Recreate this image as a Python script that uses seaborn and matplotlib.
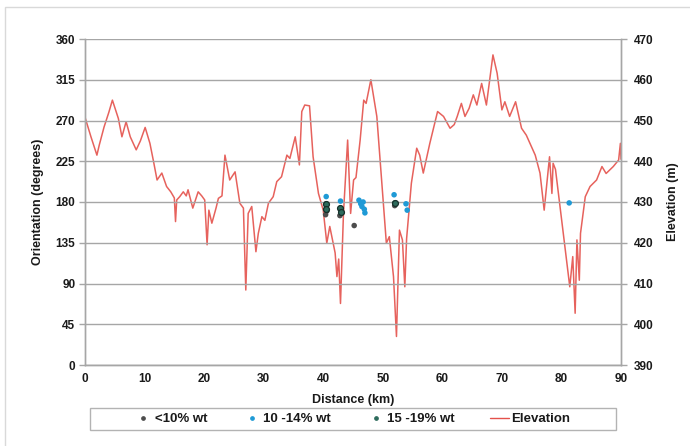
import numpy as np
import pandas as pd
import matplotlib
matplotlib.use("Agg")
import matplotlib.pyplot as plt
from matplotlib.patches import Rectangle
from matplotlib.lines import Line2D
import seaborn as sns

# Elevation profile along the route
dist_km = [0.0, 1.0, 2.0, 2.4, 3.2, 4.0, 4.6, 5.6, 6.2, 6.9, 7.6, 8.6, 9.3, 10.1, 10.9,
           11.5, 12.1, 12.9, 13.7, 14.4, 15.0, 15.2, 15.4, 15.9, 16.5, 17.0, 17.3, 18.1,
           19.0, 19.6, 20.1, 20.5, 20.8, 21.3, 22.0, 22.4, 23.0, 23.5, 24.3, 25.2, 26.0,
           26.6, 27.0, 27.4, 28.0, 28.7, 29.1, 29.7, 30.2, 30.8, 31.6, 32.2, 33.0, 33.9,
           34.4, 35.3, 36.0, 36.4, 36.9, 37.7, 38.3, 39.2, 40.0, 40.6, 41.1, 42.0, 42.3,
           42.6, 42.9, 43.4, 44.1, 44.6, 45.1, 45.5, 46.2, 46.8, 47.2, 48.0, 49.0, 49.8,
           50.6, 51.1, 51.8, 52.3, 52.8, 53.3, 53.7, 54.0, 54.8, 55.7, 56.2, 56.8, 57.9,
           59.2, 60.2, 61.3, 62.0, 62.5, 63.2, 63.8, 64.5, 65.2, 65.8, 66.6, 67.4, 68.5,
           69.2, 70.0, 70.5, 71.3, 72.3, 73.3, 74.1, 75.6, 76.4, 77.1, 77.5, 78.0, 78.4,
           78.6, 79.0, 80.3, 81.4, 81.9, 82.3, 82.6, 83.0, 83.2, 84.0, 84.8, 85.9, 86.8,
           87.5, 88.7, 89.6, 89.9, 90.0]
elevation_m = [450.8, 446.0, 441.5, 444.0, 448.4, 452.0, 455.0, 450.5, 446.0, 449.7, 446.0,
               442.8, 445.0, 448.3, 444.4, 440.0, 435.4, 437.1, 433.8, 432.5, 431.0, 425.2,
               430.5, 431.3, 432.5, 431.5, 433.0, 428.5, 432.5, 431.5, 430.5, 419.5, 428.0,
               424.8, 428.5, 430.9, 431.5, 441.5, 435.4, 437.4, 429.7, 428.5, 408.4, 427.2,
               428.9, 417.8, 422.3, 426.4, 425.5, 429.7, 431.3, 435.0, 436.2, 441.5, 440.7,
               446.0, 439.1, 452.2, 453.8, 453.6, 441.1, 432.1, 428.0, 419.9, 424.0, 417.5,
               411.7, 416.0, 405.1, 427.2, 445.2, 427.2, 435.4, 436.0, 445.2, 455.0, 454.2,
               460.0, 451.0, 435.4, 419.9, 421.5, 411.7, 397.0, 423.1, 420.7, 409.2, 421.0,
               434.6, 443.2, 441.5, 437.1, 444.4, 452.2, 451.0, 448.1, 449.0, 451.0, 454.2,
               451.0, 453.0, 456.3, 453.8, 459.1, 453.8, 466.1, 461.6, 452.6, 454.6, 451.0,
               454.6, 448.1, 446.4, 441.5, 437.1, 428.0, 433.8, 441.1, 432.1, 439.5, 438.0,
               422.3, 409.2, 416.6, 402.7, 420.7, 410.8, 422.3, 431.3, 433.8, 435.4, 438.7,
               437.0, 438.7, 440.3, 444.4, 440.5]

# Orientation measurements grouped by content class
lt10_km = [40.4, 40.6, 42.8, 43.1, 45.2, 52.0]
lt10_deg = [166, 170, 165, 168, 154, 176]
mid_km = [40.5, 42.9, 46.0, 46.3, 46.5, 46.7, 46.9, 47.0, 51.9, 53.9, 54.1, 81.3]
mid_deg = [186, 181, 182, 178, 175, 180, 172, 168, 188, 178, 171, 179]
high_km = [40.5, 40.5, 42.9, 43.0, 52.0]
high_deg = [178, 172, 173, 169, 179]

classes = ["<10% wt", "10 -14% wt", "15 -19% wt"]
class_colors = ["#4d4d4d", "#1f9ad6", "#2d6b5c"]
line_color = "#e4514b"

pts = pd.DataFrame({
    "km": lt10_km + mid_km + high_km,
    "deg": lt10_deg + mid_deg + high_deg,
    "cls": [classes[0]] * len(lt10_km) + [classes[1]] * len(mid_km) + [classes[2]] * len(high_km),
})
elev = pd.DataFrame({"km": dist_km, "elev": elevation_m})

sns.set_style("white")
plt.rcParams["font.family"] = ["Liberation Sans", "DejaVu Sans"]
plt.rcParams["font.weight"] = "bold"

fig = plt.figure(figsize=(6.9, 4.46), dpi=100)
W, H = 690, 446
fig.patches.append(Rectangle((5 / W, -0.01), 1.0, 1 - 7 / H + 0.01, transform=fig.transFigure,
                             fill=False, edgecolor="#d9d9d9", linewidth=1.0))

ax = fig.add_axes([85 / W, 1 - 365 / H, 536 / W, 326 / H])
ax2 = ax.twinx()

grid_c = "#a6a6a6"
sns.lineplot(data=elev, x="km", y="elev", ax=ax2, color=line_color, linewidth=1.1,
             alpha=0.9, legend=False, sort=False)
sns.scatterplot(data=pts, x="km", y="deg", hue="cls", hue_order=classes,
                palette=class_colors, ax=ax, s=16, edgecolor="none", legend=False, zorder=3)
# darker outline for the highest class
hi = pts[pts["cls"] == classes[2]]
ax.scatter(hi["km"], hi["deg"], s=18, facecolor=class_colors[2], edgecolor="#16302a",
           linewidth=0.9, zorder=4)

ax.set_zorder(ax2.get_zorder() + 1)
ax.patch.set_visible(False)

ax.set_xlim(0, 90)
ax.set_ylim(0, 360)
ax2.set_ylim(390, 470)
ax.set_xticks(np.arange(0, 91, 10))
ax.set_yticks(np.arange(0, 361, 45))
ax2.set_yticks(np.arange(390, 471, 10))
ax.yaxis.grid(True, color=grid_c, linewidth=1.0)
ax.xaxis.grid(False)
ax2.grid(False)

for a in (ax, ax2):
    for side in ("left", "right", "bottom"):
        a.spines[side].set_color(grid_c)
        a.spines[side].set_linewidth(1.0)
    a.spines["top"].set_visible(False)
    a.tick_params(colors="#1a1a1a", labelsize=8.5, length=4, width=1.0, color=grid_c)

ax.tick_params(axis="x", direction="inout", pad=4)
ax.tick_params(axis="y", direction="out", pad=3)
ax2.tick_params(axis="y", direction="out", pad=5)

ax.set_xlabel("Distance (km)", fontsize=9, fontweight="bold", labelpad=6, color="#1a1a1a")
ax.set_ylabel("Orientation (degrees)", fontsize=9, fontweight="bold", labelpad=8, color="#1a1a1a")
ax2.set_ylabel("Elevation (m)", fontsize=9, fontweight="bold", labelpad=10, rotation=90,
               color="#1a1a1a")

# legend below the plot
handles = [Line2D([], [], marker="o", linestyle="none", markersize=2.4,
                  markerfacecolor=c, markeredgecolor=c) for c in class_colors]
handles.append(Line2D([], [], color=line_color, linewidth=1.0))
labels = classes + ["Elevation"]
leg = fig.legend(handles, labels, loc="center", bbox_to_anchor=(352 / W, 1 - 419 / H),
                 ncol=4, frameon=False, handlelength=1.4, handletextpad=0.15,
                 columnspacing=2.7, prop={"weight": "bold", "size": 9.5})
for t in leg.get_texts():
    t.set_color("#1a1a1a")
fig.patches.append(Rectangle((90 / W, 1 - 430 / H), 526 / W, 22 / H, transform=fig.transFigure,
                             fill=False, edgecolor="#b3b3b3", linewidth=1.0))

fig.savefig("out.png", dpi=100)
